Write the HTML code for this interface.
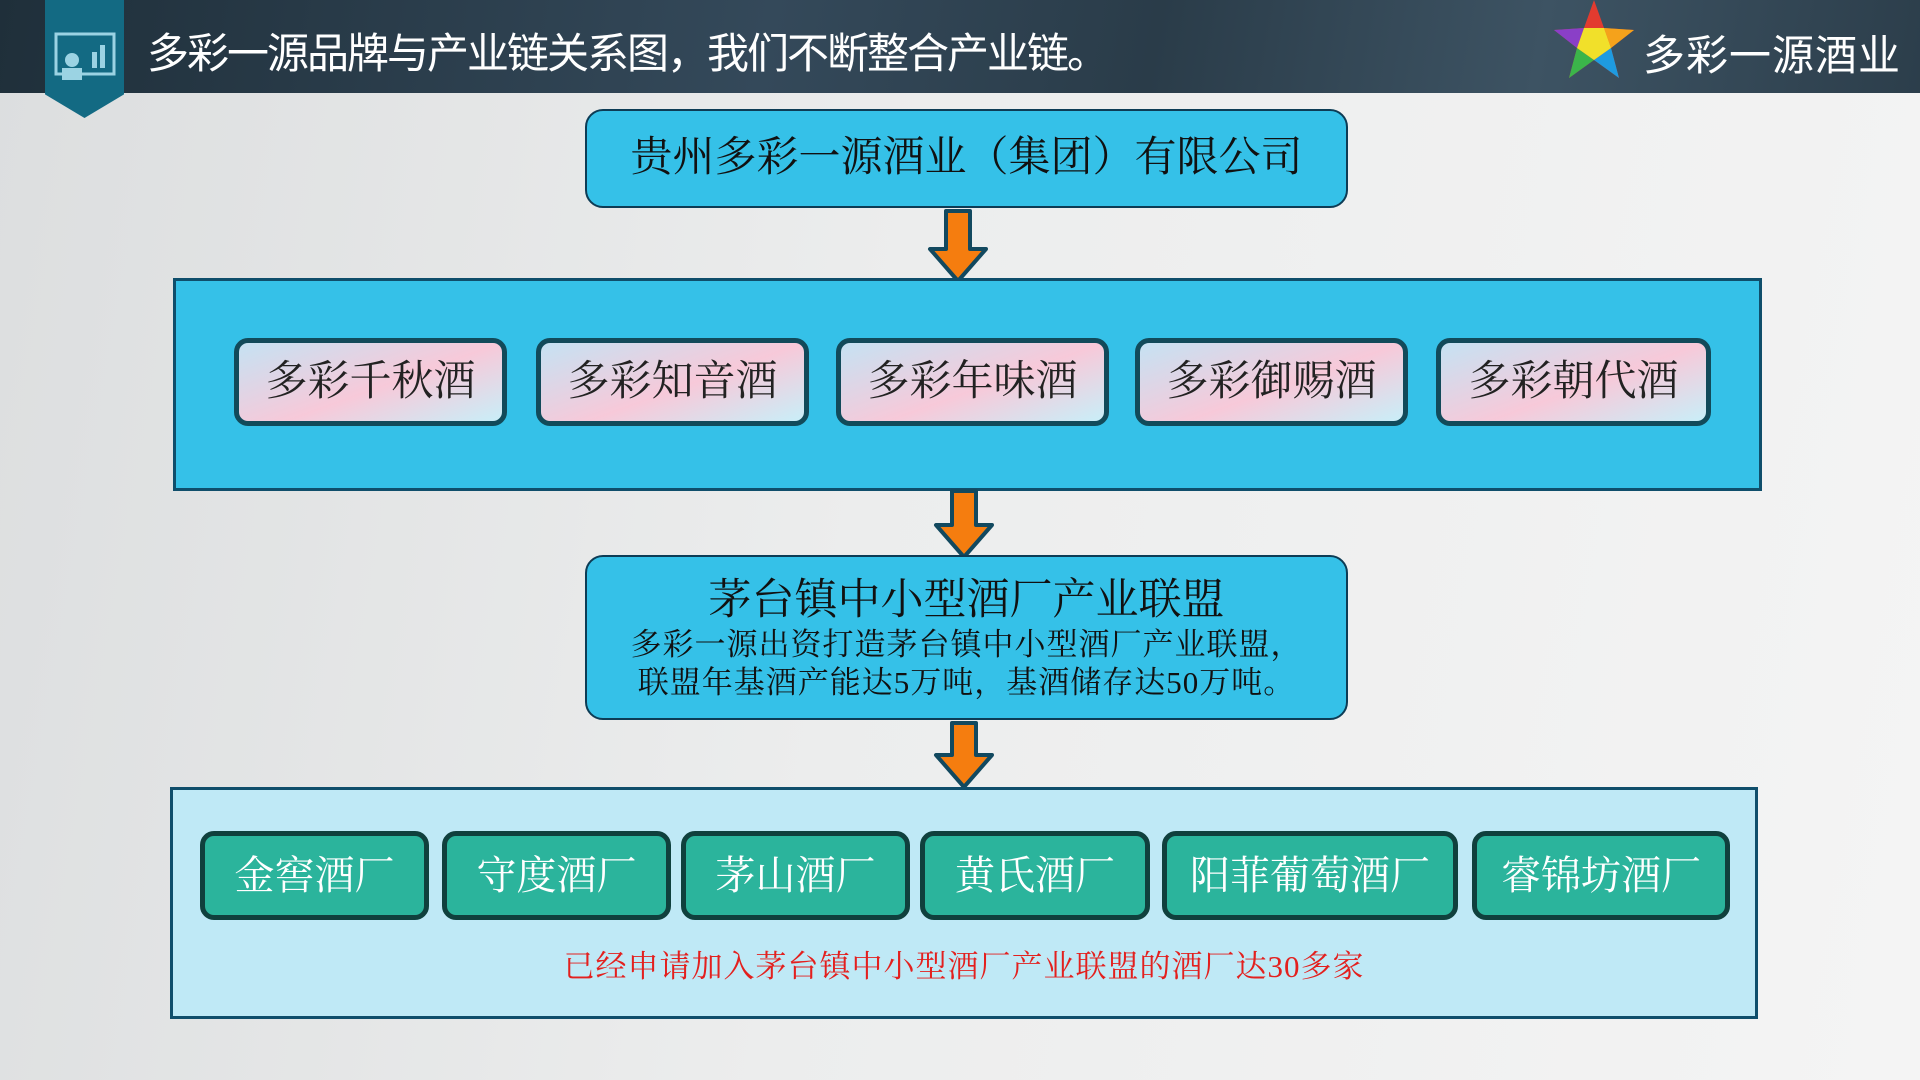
<!DOCTYPE html>
<html><head><meta charset="utf-8"><style>
*{margin:0;padding:0;box-sizing:border-box}
body{width:1920px;height:1080px;overflow:hidden;position:relative;background:linear-gradient(100deg,#dcdedf 0%,#eceded 45%,#f4f4f4 100%);font-family:"Liberation Serif","Noto Serif CJK SC",serif}
.hdr{position:absolute;left:0;top:0;width:1920px;height:93px;background:linear-gradient(100deg,#1f2f3a 0%,#34495a 40%,#2a3c49 60%,#3d5363 80%,#2c3e4b 100%)}
.tab{position:absolute;left:45px;top:0;width:79px;height:118px;background:#136a83;clip-path:polygon(0 0,100% 0,100% 80%,50% 100%,0 80%)}
.title{position:absolute;left:147px;top:26px;color:#fff;font-family:"Liberation Sans","Noto Sans CJK SC",sans-serif;font-size:42px;line-height:56px;letter-spacing:-2px}
.logo{position:absolute;left:1643px;top:22px;color:#fff;font-family:"Liberation Sans","Noto Sans CJK SC",sans-serif;font-size:42px;letter-spacing:1px}
.box{position:absolute;background:#35c1e8;border:2px solid #0d3c55;border-radius:18px;text-align:center;color:#111}
.panel{position:absolute;border:3px solid #0f4e6b}
.b{position:absolute;top:338px;height:88px;border:5px solid #124a5a;border-radius:14px;background:linear-gradient(160deg,#c5e2f3 0%,#f7c9d9 55%,#c9eef8 100%);font-size:42px;line-height:78px;text-align:center;color:#222}
.g{position:absolute;top:831px;height:89px;border:5px solid #10403d;border-radius:14px;background:#2bb49c;font-size:40px;line-height:79px;text-align:center;color:#fff}
.arr{position:absolute}
</style></head><body>
<div class="hdr"></div>
<div class="tab"></div>
<svg style="position:absolute;left:54px;top:32px" width="62" height="50"><rect x="2" y="2" width="58" height="40" fill="none" stroke="#9bd3e3" stroke-width="3"/><rect x="38" y="20" width="5" height="16" fill="#9bd3e3"/><rect x="46" y="13" width="5" height="23" fill="#9bd3e3"/><circle cx="18" cy="28" r="7" fill="#9bd3e3"/><rect x="8" y="36" width="20" height="12" fill="#9bd3e3"/></svg>
<div class="title">多彩一源品牌与产业链关系图，我们不断整合产业链。</div>
<svg style="position:absolute;left:1549px;top:0" width="90" height="80"><polygon points="45,0 55,28 85,30 62,48 70,78 45,60 20,78 28,48 5,30 35,28" fill="#e23b2f"/><polygon points="5,30 35,28 28,48" fill="#8a3fc7"/><polygon points="62,48 85,30 55,28" fill="#f5a21b"/><polygon points="45,60 70,78 62,48" fill="#1e9be0"/><polygon points="20,78 45,60 28,48" fill="#3bb54a"/><polygon points="28,48 45,60 62,48 55,28 35,28" fill="#f1e02a"/></svg>
<div class="logo">多彩一源酒业</div>

<div class="box" style="left:585px;top:109px;width:763px;height:99px;font-size:42px;line-height:95px">贵州多彩一源酒业（集团）有限公司</div>

<svg class="arr" style="left:926px;top:209px" width="64" height="76"><polygon points="20,2 44,2 44,40 60,40 32,72 4,40 20,40" fill="#f57d0f" stroke="#12495f" stroke-width="4" stroke-linejoin="round"/></svg>

<div class="panel" style="left:173px;top:278px;width:1589px;height:213px;background:#35c1e8"></div>
<div class="b" style="left:234px;width:273px">多彩千秋酒</div>
<div class="b" style="left:536px;width:273px">多彩知音酒</div>
<div class="b" style="left:836px;width:273px">多彩年味酒</div>
<div class="b" style="left:1135px;width:273px">多彩御赐酒</div>
<div class="b" style="left:1436px;width:275px">多彩朝代酒</div>

<svg class="arr" style="left:932px;top:489px" width="64" height="72"><polygon points="20,2 44,2 44,36 60,36 32,68 4,36 20,36" fill="#f57d0f" stroke="#12495f" stroke-width="4" stroke-linejoin="round"/></svg>

<div class="box" style="left:585px;top:555px;width:763px;height:165px">
<div style="font-size:43px;line-height:50px;margin-top:19px">茅台镇中小型酒厂产业联盟</div>
<div style="font-size:31px;line-height:38px;letter-spacing:1px">多彩一源出资打造茅台镇中小型酒厂产业联盟，<br>联盟年基酒产能达5万吨，基酒储存达50万吨。</div>
</div>

<svg class="arr" style="left:932px;top:721px" width="64" height="70"><polygon points="20,2 44,2 44,34 60,34 32,66 4,34 20,34" fill="#f57d0f" stroke="#12495f" stroke-width="4" stroke-linejoin="round"/></svg>

<div class="panel" style="left:170px;top:787px;width:1588px;height:232px;background:#bfe9f6"></div>
<div class="g" style="left:200px;width:229px">金窖酒厂</div>
<div class="g" style="left:442px;width:229px">守度酒厂</div>
<div class="g" style="left:681px;width:229px">茅山酒厂</div>
<div class="g" style="left:920px;width:230px">黄氏酒厂</div>
<div class="g" style="left:1162px;width:296px">阳菲葡萄酒厂</div>
<div class="g" style="left:1472px;width:258px">睿锦坊酒厂</div>
<div style="position:absolute;left:170px;width:1588px;top:947px;text-align:center;color:#e3201e;font-size:31px;line-height:40px;letter-spacing:1px">已经申请加入茅台镇中小型酒厂产业联盟的酒厂达30多家</div>
</body></html>
